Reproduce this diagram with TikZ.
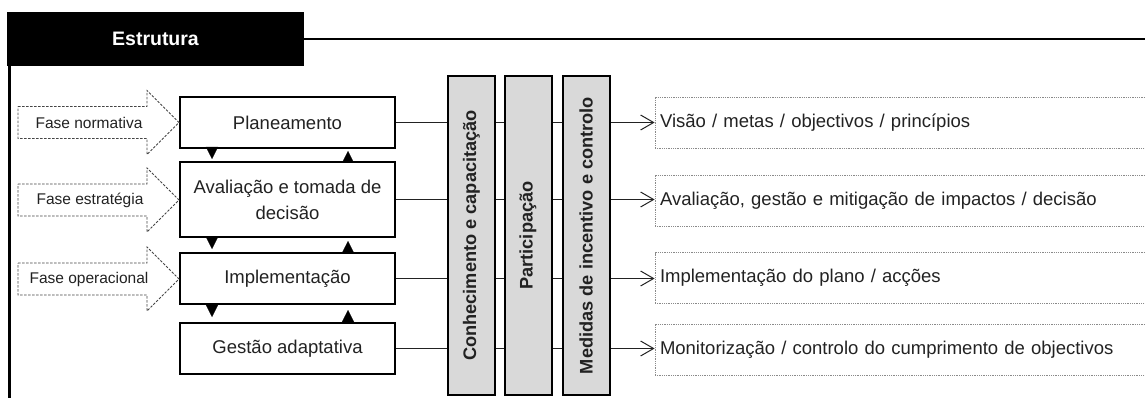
\documentclass[tikz,border=0pt]{standalone}
\usepackage{fontspec}
\setmainfont{Liberation Sans}
\usetikzlibrary{arrows.meta}
\definecolor{txt}{HTML}{222222}
\definecolor{barfill}{HTML}{D9D9D9}
\definecolor{dashgray}{HTML}{444444}
\definecolor{dotgray}{HTML}{8A8A8A}
\begin{document}
\begin{tikzpicture}[x=1pt,y=-1pt,
  phasebox/.style={draw=black, line width=2pt, fill=white, minimum width=215pt, text=txt, align=center,
    font=\fontsize{18.5}{26}\selectfont, inner sep=2pt},
  outbox/.style={draw=dotgray, line width=0.8pt, dash pattern=on 1pt off 0.8pt, minimum width=495pt,
    minimum height=51pt, text width=485pt, align=left, inner xsep=5pt, text=txt,
    font=\fontsize{18.5}{22}\selectfont},
  barbox/.style={draw=black, line width=2pt, fill=barfill, minimum width=47pt, minimum height=319pt},
  bartext/.style={rotate=90, text=txt, font=\bfseries\fontsize{18.2}{22}\selectfont},
  fasearrow/.style={draw=dashgray, line width=0.8pt, dash pattern=on 2.5pt off 1.5pt, fill=white},
  fasetext/.style={text=txt, font=\fontsize{15.5}{18}\selectfont, inner sep=0pt},
  conn/.style={draw=txt, line width=1.1pt, -{Straight Barb[length=13pt,width=15pt,line width=1pt]}},
  tri/.style={draw=black, line width=0.1pt, -{Triangle[length=12pt,width=12pt]}}
]
\useasboundingbox (0,0) rectangle (1145,398);

% header
\node[fill=black, minimum width=297pt, minimum height=54pt, inner sep=0pt, text=white,
  font=\bfseries\fontsize{19.5}{22}\selectfont] (hdr) at (155.5,39) {Estrutura};
\coordinate (hend) at (1146,39);
\coordinate (lend) at (9.5,399);
\draw[line width=2.4pt] (hdr.east) -- (hend);
\draw[line width=3pt] (hdr.south west -| lend) -- (lend);

% phase boxes
\node[phasebox, minimum height=51pt] (p1) at (287.5,122.5) {Planeamento};
\node[phasebox, minimum height=75pt] (p2) at (287.5,199.5) {Avaliação e tomada de\\decisão};
\node[phasebox, minimum height=51pt] (p3) at (287.5,278.5) {Implementação};
\node[phasebox, minimum height=51pt] (p4) at (287.5,348.5) {Gestão adaptativa};

% triangles between phases
\draw[tri, shorten >=2pt] ([xshift=33pt]p1.south west) -- ([xshift=33pt]p2.north west);
\draw[tri, shorten >=2pt] ([xshift=-48pt]p2.north east) -- ([xshift=-48pt]p1.south east);
\draw[tri, shorten <=1pt, shorten >=3pt] ([xshift=33pt]p2.south west) -- ([xshift=33pt]p3.north west);
\draw[tri, shorten <=1pt, shorten >=3pt] ([xshift=-48pt]p3.north east) -- ([xshift=-48pt]p2.south east);
\draw[tri, shorten <=1pt, shorten >=5pt] ([xshift=33pt]p3.south west) -- ([xshift=33pt]p4.north west);
\draw[tri, shorten <=1pt, shorten >=5pt] ([xshift=-48pt]p4.north east) -- ([xshift=-48pt]p3.south east);

% output boxes
\node[outbox] (r1) at (902.5,122.5) {Visão / metas / objectivos / princípios};
\node[outbox] (r2) at (902.5,200.5) {Avaliação, gestão e mitigação de impactos / decisão};
\node[outbox] (r3) at (902.5,278) {Implementação do plano / acções};
\node[outbox] (r4) at (902.5,349.5) {Monitorização / controlo do cumprimento de objectivos};

% connectors
\draw[conn] (p1.east) -- (p1.east -| r1.west);
\draw[conn] (p2.east) -- (p2.east -| r2.west);
\draw[conn] (p3.east) -- (p3.east -| r3.west);
\draw[conn] (p4.east) -- (p4.east -| r4.west);

% vertical bars
\node[barbox] (b1) at (471.5,235.5) {};
\node[barbox] (b2) at (528,235.5) {};
\node[barbox] (b3) at (586,235.5) {};
\node[bartext] (t1) at (b1) {Conhecimento e capacitação};
\node[bartext] (t2) at (b2) {Participação};
\node[bartext] (t3) at (b3) {Medidas de incentivo e controlo};

% phase arrows
\draw[fasearrow] (18,106.5) -- (147,106.5) -- (147,90.5) -- (179,122.5) -- (147,154.5) -- (147,138.5) -- (18,138.5) -- cycle;
\draw[fasearrow] (18,184) -- (147,184) -- (147,168) -- (179,200) -- (147,232) -- (147,216) -- (18,216) -- cycle;
\draw[fasearrow] (18,263) -- (147,263) -- (147,247) -- (179,279) -- (147,311) -- (147,295) -- (18,295) -- cycle;
\node[fasetext] (f1) at (89,122.5) {Fase normativa};
\node[fasetext] (f2) at (90,200) {Fase estratégia};
\node[fasetext] (f3) at (89,279) {Fase operacional};
\end{tikzpicture}
\end{document}
